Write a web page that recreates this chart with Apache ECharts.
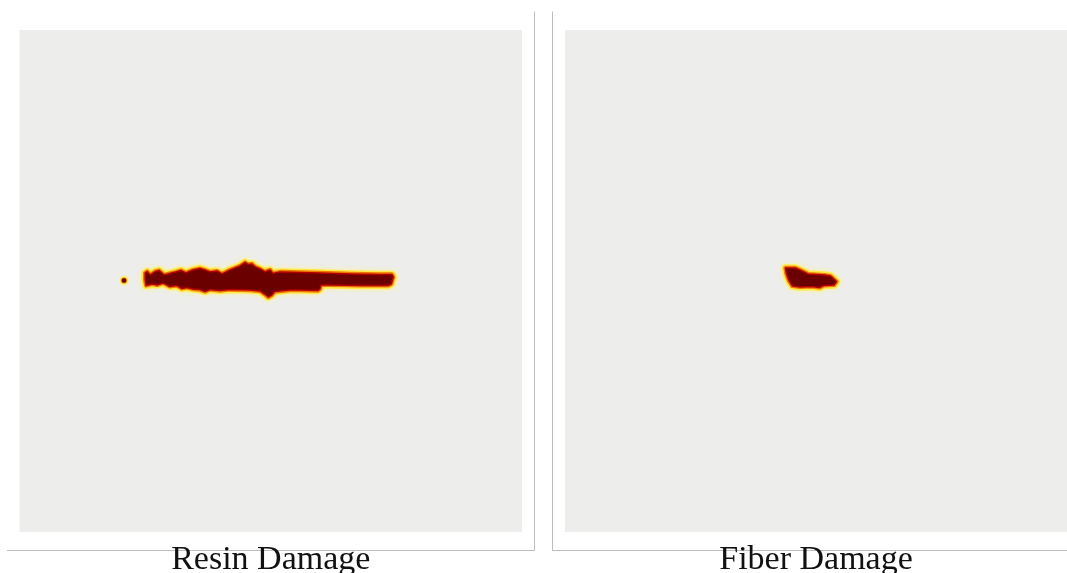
<!DOCTYPE html>
<html>
<head>
<meta charset="utf-8">
<script src="https://cdn.jsdelivr.net/npm/echarts@6/dist/echarts.min.js"></script>
<style>
  html, body { margin: 0; padding: 0; background: #ffffff; }
  #chart { width: 1067px; height: 573px; }
</style>
</head>
<body>
<div id="chart"></div>
<script>
// Plate coordinates in mm (0-100 on both axes), y measured upward.
const panelTitles = ['Resin Damage', 'Fiber Damage'];

// Resin damage zone outline: upper edge left→right, then lower edge right→left.
const resinOutline = [
  [25.0, 51.6], [25.4, 51.9], [26.0, 51.2], [27.0, 51.9], [27.8, 52.1],
  [28.8, 51.2], [29.9, 51.5], [31.1, 51.8], [32.1, 52.1], [33.1, 51.6],
  [34.5, 52.2], [35.9, 52.5], [36.9, 52.2], [37.9, 51.8], [39.3, 52.0],
  [40.3, 51.4], [41.9, 52.2], [42.9, 52.6], [43.9, 53.0], [44.9, 53.7],
  [45.5, 53.3], [46.3, 53.4], [46.9, 52.8], [47.9, 52.4], [48.9, 51.8],
  [49.5, 52.1], [49.9, 52.2], [50.4, 51.5], [51.8, 51.8], [55.8, 51.7],
  [59.8, 51.6], [65.8, 51.4], [71.7, 51.3], [74.1, 51.3], [74.4, 50.8],
  [74.0, 49.4],
  [73.3, 49.1], [67.8, 49.1], [61.8, 49.2], [60.0, 49.2], [59.8, 48.4],
  [59.4, 48.1], [55.8, 48.2], [53.8, 48.2], [51.8, 48.0], [50.8, 47.9],
  [50.2, 47.2], [49.5, 46.8], [48.9, 47.3], [47.9, 48.0], [45.9, 48.2],
  [41.9, 48.3], [39.9, 48.1], [37.9, 48.3], [36.9, 47.9], [35.9, 48.3],
  [34.5, 48.4], [33.3, 48.7], [32.3, 48.5], [31.3, 49.1], [29.9, 48.9],
  [28.6, 49.6], [27.4, 49.2], [26.4, 49.4], [25.2, 49.1], [25.0, 50.2]
];

// Isolated resin damage spot left of the main zone.
const resinSpot = [[20.8, 50.1]];

// Fiber damage zone outline.
const fiberOutline = [
  [43.9, 52.6], [45.9, 52.6], [46.8, 52.2], [48.4, 51.4], [51.7, 51.2],
  [52.9, 51.0], [54.1, 49.9], [53.6, 49.2], [51.5, 49.1], [50.7, 48.7],
  [49.2, 48.9], [46.8, 48.8], [45.3, 49.0], [44.6, 50.1], [44.1, 51.5]
];

const COLORS = {
  plate: '#ededeb',
  core: '#6b0000',
  rim: '#b00000',
  orange: '#f07800',
  yellow: '#ffe94a',
  halo: 'rgba(255,244,150,0.9)'
};

function zoneLayers(points) {
  return [
    { type: 'polygon', shape: { points }, style: {
        fill: COLORS.yellow, stroke: COLORS.yellow, lineWidth: 7.5, lineJoin: 'round',
        shadowBlur: 5, shadowColor: COLORS.halo } },
    { type: 'polygon', shape: { points }, style: {
        fill: COLORS.orange, stroke: COLORS.orange, lineWidth: 4.2, lineJoin: 'round' } },
    { type: 'polygon', shape: { points }, style: {
        fill: COLORS.core, stroke: COLORS.rim, lineWidth: 1.4, lineJoin: 'round' } }
  ];
}

function outlineSeries(outline, gridIndex) {
  return {
    type: 'custom',
    xAxisIndex: gridIndex,
    yAxisIndex: gridIndex,
    data: [[outline[0][0], outline[0][1]]],
    silent: true,
    renderItem: function (params, api) {
      const pts = outline.map(p => api.coord(p));
      return { type: 'group', children: zoneLayers(pts) };
    }
  };
}

function spotSeries(spots, gridIndex) {
  return {
    type: 'custom',
    xAxisIndex: gridIndex,
    yAxisIndex: gridIndex,
    data: spots,
    silent: true,
    renderItem: function (params, api) {
      const c = api.coord([api.value(0), api.value(1)]);
      return { type: 'group', children: [
        { type: 'circle', shape: { cx: c[0], cy: c[1], r: 4.2 }, style: {
            fill: COLORS.yellow, shadowBlur: 3, shadowColor: COLORS.halo } },
        { type: 'circle', shape: { cx: c[0], cy: c[1], r: 3.0 }, style: { fill: COLORS.orange } },
        { type: 'circle', shape: { cx: c[0], cy: c[1], r: 2.2 }, style: { fill: COLORS.core } }
      ] };
    }
  };
}

const gridBoxes = [
  { left: 19.5, top: 30, width: 502.5, height: 502 },
  { left: 565, top: 30, width: 502, height: 502 }
];

const chart = echarts.init(document.getElementById('chart'), null, { renderer: 'canvas' });

const axisBase = { type: 'value', min: 0, max: 100, show: false, splitLine: { show: false } };

chart.setOption({
  animation: false,
  backgroundColor: '#ffffff',
  title: panelTitles.map((t, i) => ({
    text: t,
    left: gridBoxes[i].left + gridBoxes[i].width / 2 - 5,
    top: 538,
    textAlign: 'center',
    textStyle: { fontFamily: 'Liberation Serif', fontSize: 34, fontWeight: 'normal', color: '#111111' }
  })),
  grid: gridBoxes.map(b => Object.assign({ show: true, backgroundColor: COLORS.plate, borderWidth: 0 }, b)),
  xAxis: [Object.assign({ gridIndex: 0 }, axisBase), Object.assign({ gridIndex: 1 }, axisBase)],
  yAxis: [Object.assign({ gridIndex: 0 }, axisBase), Object.assign({ gridIndex: 1 }, axisBase)],
  graphic: [
    { type: 'polyline', z: -1, shape: { points: [[534.5, 11.5], [534.5, 550.5], [7, 550.5]] },
      style: { stroke: '#bdbdbd', lineWidth: 1, fill: null } },
    { type: 'polyline', z: -1, shape: { points: [[552.5, 11.5], [552.5, 550.5], [1067, 550.5]] },
      style: { stroke: '#bdbdbd', lineWidth: 1, fill: null } }
  ],
  series: [
    outlineSeries(resinOutline, 0),
    spotSeries(resinSpot, 0),
    outlineSeries(fiberOutline, 1)
  ]
});
</script>
</body>
</html>
